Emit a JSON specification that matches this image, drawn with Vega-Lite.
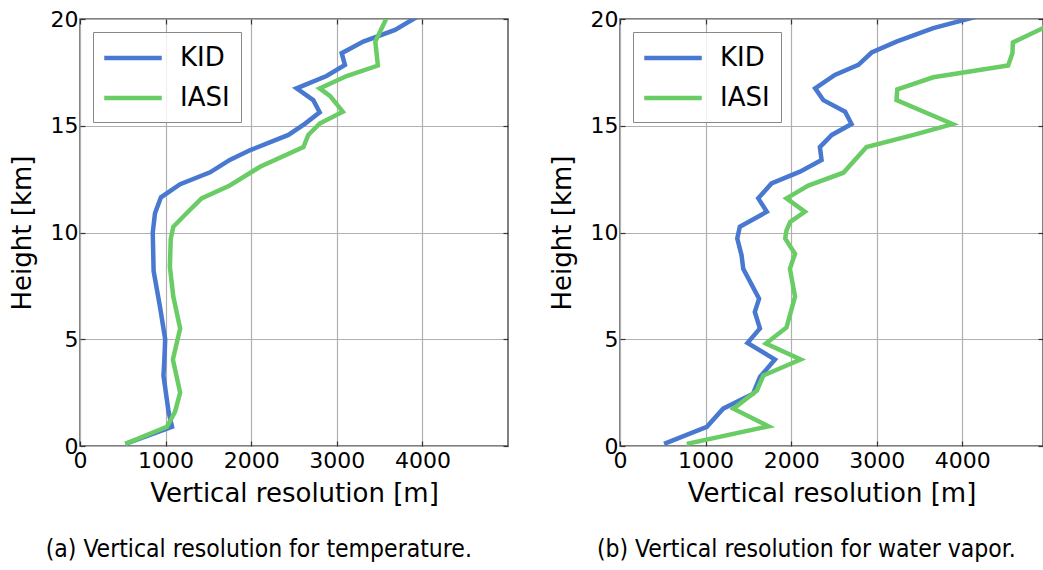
{
  "$schema": "https://vega.github.io/schema/vega-lite/v6.json",
  "background": "white",
  "padding": {"left": 8, "top": 7, "right": 0, "bottom": 0},
  "spacing": 112,
  "bounds": "flush",
  "config": {
    "font": "DejaVu Sans",
    "view": {"stroke": "#555555", "strokeWidth": 1.5},
    "axis": {
      "labelFont": "DejaVu Sans",
      "labelFontSize": 22,
      "labelColor": "#000000",
      "labelFlush": false,
      "titleFont": "DejaVu Sans",
      "titleFontSize": 26,
      "titleFontWeight": "normal",
      "titleColor": "#000000",
      "gridColor": "#b0b0b0",
      "gridWidth": 1.2,
      "domain": false,
      "tickColor": "#333333",
      "tickWidth": 1.2,
      "tickSize": -5,
      "labelPadding": 7
    },
    "legend": {
      "labelFont": "DejaVu Sans",
      "labelFontSize": 26,
      "labelColor": "#000000",
      "symbolType": "M-2.3,0H2.3",
      "symbolStrokeWidth": 4.5,
      "symbolSize": 625,
      "symbolOffset": 14,
      "labelOffset": 32,
      "strokeColor": "#888888",
      "fillColor": "rgba(255,255,255,0.8)",
      "padding": 11,
      "rowPadding": 12,
      "cornerRadius": 0
    }
  },
  "hconcat": [
    {
      "width": 428,
      "height": 427,
      "title": {
        "text": "(a) Vertical resolution for temperature.",
        "orient": "bottom",
        "anchor": "middle",
        "frame": "bounds",
        "font": "Liberation Sans Narrow, DejaVu Sans Condensed, sans-serif",
        "fontSize": 24.5,
        "fontWeight": "normal",
        "color": "#000000",
        "offset": 32
      },
      "data": {
        "values": [
          {"series": "KID", "height": 0.1, "res": 530},
          {"series": "KID", "height": 0.9, "res": 1075},
          {"series": "KID", "height": 1.6, "res": 1035},
          {"series": "KID", "height": 3.3, "res": 975},
          {"series": "KID", "height": 4.0, "res": 985},
          {"series": "KID", "height": 5.0, "res": 995},
          {"series": "KID", "height": 6.5, "res": 935},
          {"series": "KID", "height": 8.2, "res": 860},
          {"series": "KID", "height": 10.0, "res": 850},
          {"series": "KID", "height": 10.9, "res": 876},
          {"series": "KID", "height": 11.65, "res": 946},
          {"series": "KID", "height": 12.26, "res": 1170},
          {"series": "KID", "height": 12.82, "res": 1520},
          {"series": "KID", "height": 13.4, "res": 1750},
          {"series": "KID", "height": 13.86, "res": 1990},
          {"series": "KID", "height": 14.57, "res": 2435},
          {"series": "KID", "height": 15.1, "res": 2630},
          {"series": "KID", "height": 15.63, "res": 2800},
          {"series": "KID", "height": 16.2, "res": 2725},
          {"series": "KID", "height": 16.75, "res": 2530},
          {"series": "KID", "height": 17.33, "res": 2880},
          {"series": "KID", "height": 17.85, "res": 3095},
          {"series": "KID", "height": 18.4, "res": 3057},
          {"series": "KID", "height": 18.94, "res": 3310},
          {"series": "KID", "height": 19.49, "res": 3680},
          {"series": "KID", "height": 20.2, "res": 3980},
          {"series": "IASI", "height": 0.1, "res": 530},
          {"series": "IASI", "height": 0.9, "res": 1015},
          {"series": "IASI", "height": 1.6, "res": 1110},
          {"series": "IASI", "height": 2.5, "res": 1170},
          {"series": "IASI", "height": 4.05, "res": 1085},
          {"series": "IASI", "height": 5.5, "res": 1170},
          {"series": "IASI", "height": 7.0, "res": 1090},
          {"series": "IASI", "height": 8.4, "res": 1050},
          {"series": "IASI", "height": 9.7, "res": 1060},
          {"series": "IASI", "height": 10.27, "res": 1090},
          {"series": "IASI", "height": 10.9, "res": 1245},
          {"series": "IASI", "height": 11.6, "res": 1420},
          {"series": "IASI", "height": 12.2, "res": 1750},
          {"series": "IASI", "height": 13.08, "res": 2103},
          {"series": "IASI", "height": 14.0, "res": 2610},
          {"series": "IASI", "height": 14.57, "res": 2667},
          {"series": "IASI", "height": 15.1, "res": 2800},
          {"series": "IASI", "height": 15.66, "res": 3070},
          {"series": "IASI", "height": 16.4, "res": 2920},
          {"series": "IASI", "height": 16.75, "res": 2800},
          {"series": "IASI", "height": 17.33, "res": 3115},
          {"series": "IASI", "height": 17.82, "res": 3480},
          {"series": "IASI", "height": 18.94, "res": 3450},
          {"series": "IASI", "height": 20.2, "res": 3600}
        ]
      },
      "layer": [
        {
          "mark": {"type": "line", "strokeWidth": 4.5, "clip": true},
          "encoding": {
            "x": {
              "field": "res", "type": "quantitative",
              "scale": {"domain": [0, 5000], "nice": false},
              "axis": {"values": [0, 1000, 2000, 3000, 4000], "format": "d", "title": "Vertical resolution [m]", "grid": true, "labelPadding": 9, "titlePadding": 9}
            },
            "y": {
              "field": "height", "type": "quantitative",
              "scale": {"domain": [0, 20], "nice": false},
              "axis": {"values": [0, 5, 10, 15, 20], "title": "Height [km]", "grid": true, "titlePadding": 15}
            },
            "order": {"field": "height", "type": "quantitative"},
            "color": {
              "field": "series", "type": "nominal",
              "scale": {"domain": ["KID", "IASI"], "range": ["#4878CF", "#6ACC65"]},
              "legend": {"title": null, "orient": "none", "legendX": 13, "legendY": 13}
            }
          }
        },
        {
          "mark": {"type": "point", "opacity": 0},
          "encoding": {
            "x": {"field": "res", "type": "quantitative", "axis": {"orient": "top", "values": [0, 1000, 2000, 3000, 4000], "labels": false, "title": null, "grid": false}},
            "y": {"field": "height", "type": "quantitative", "axis": {"orient": "right", "values": [0, 5, 10, 15, 20], "labels": false, "title": null, "grid": false}}
          }
        }
      ],
      "resolve": {"axis": {"x": "independent", "y": "independent"}}
    },
    {
      "width": 423,
      "height": 427,
      "title": {
        "text": "(b) Vertical resolution for water vapor.",
        "orient": "bottom",
        "anchor": "middle",
        "frame": "bounds",
        "font": "Liberation Sans Narrow, DejaVu Sans Condensed, sans-serif",
        "fontSize": 24.5,
        "fontWeight": "normal",
        "color": "#000000",
        "offset": 32
      },
      "data": {
        "values": [
          {"series": "KID", "height": 0.1, "res": 515},
          {"series": "KID", "height": 0.9, "res": 1015},
          {"series": "KID", "height": 1.75, "res": 1205},
          {"series": "KID", "height": 2.45, "res": 1555},
          {"series": "KID", "height": 3.23, "res": 1635},
          {"series": "KID", "height": 4.05, "res": 1810},
          {"series": "KID", "height": 4.83, "res": 1490},
          {"series": "KID", "height": 5.5, "res": 1635},
          {"series": "KID", "height": 6.28, "res": 1575},
          {"series": "KID", "height": 6.9, "res": 1625},
          {"series": "KID", "height": 8.3, "res": 1440},
          {"series": "KID", "height": 8.94, "res": 1420},
          {"series": "KID", "height": 9.72, "res": 1370},
          {"series": "KID", "height": 10.27, "res": 1400},
          {"series": "KID", "height": 10.97, "res": 1715},
          {"series": "KID", "height": 11.6, "res": 1615},
          {"series": "KID", "height": 12.3, "res": 1770},
          {"series": "KID", "height": 12.85, "res": 2103},
          {"series": "KID", "height": 13.4, "res": 2355},
          {"series": "KID", "height": 14.0, "res": 2335},
          {"series": "KID", "height": 14.57, "res": 2475},
          {"series": "KID", "height": 15.08, "res": 2705},
          {"series": "KID", "height": 15.66, "res": 2630},
          {"series": "KID", "height": 16.2, "res": 2375},
          {"series": "KID", "height": 16.75, "res": 2280},
          {"series": "KID", "height": 17.38, "res": 2510},
          {"series": "KID", "height": 17.85, "res": 2785},
          {"series": "KID", "height": 18.43, "res": 2940},
          {"series": "KID", "height": 18.94, "res": 3230},
          {"series": "KID", "height": 19.57, "res": 3660},
          {"series": "KID", "height": 20.2, "res": 4250},
          {"series": "IASI", "height": 0.1, "res": 780},
          {"series": "IASI", "height": 0.92, "res": 1735},
          {"series": "IASI", "height": 1.75, "res": 1325},
          {"series": "IASI", "height": 2.6, "res": 1600},
          {"series": "IASI", "height": 3.3, "res": 1675},
          {"series": "IASI", "height": 4.05, "res": 2110},
          {"series": "IASI", "height": 4.8, "res": 1705},
          {"series": "IASI", "height": 5.55, "res": 1945},
          {"series": "IASI", "height": 7.0, "res": 2045},
          {"series": "IASI", "height": 8.3, "res": 1985},
          {"series": "IASI", "height": 9.0, "res": 2045},
          {"series": "IASI", "height": 9.72, "res": 1930},
          {"series": "IASI", "height": 10.1, "res": 1945},
          {"series": "IASI", "height": 10.5, "res": 1990},
          {"series": "IASI", "height": 10.97, "res": 2160},
          {"series": "IASI", "height": 11.6, "res": 1945},
          {"series": "IASI", "height": 12.2, "res": 2200},
          {"series": "IASI", "height": 12.8, "res": 2610},
          {"series": "IASI", "height": 14.0, "res": 2880},
          {"series": "IASI", "height": 14.57, "res": 3430},
          {"series": "IASI", "height": 15.08, "res": 3885},
          {"series": "IASI", "height": 16.2, "res": 3230},
          {"series": "IASI", "height": 16.7, "res": 3240},
          {"series": "IASI", "height": 17.27, "res": 3660},
          {"series": "IASI", "height": 17.82, "res": 4535},
          {"series": "IASI", "height": 18.4, "res": 4585},
          {"series": "IASI", "height": 18.9, "res": 4590},
          {"series": "IASI", "height": 19.57, "res": 4940},
          {"series": "IASI", "height": 20.2, "res": 5150}
        ]
      },
      "layer": [
        {
          "mark": {"type": "line", "strokeWidth": 4.5, "clip": true},
          "encoding": {
            "x": {
              "field": "res", "type": "quantitative",
              "scale": {"domain": [0, 4942], "nice": false},
              "axis": {"values": [0, 1000, 2000, 3000, 4000], "format": "d", "title": "Vertical resolution [m]", "grid": true, "labelPadding": 9, "titlePadding": 9}
            },
            "y": {
              "field": "height", "type": "quantitative",
              "scale": {"domain": [0, 20], "nice": false},
              "axis": {"values": [0, 5, 10, 15, 20], "title": "Height [km]", "grid": true, "titlePadding": 15}
            },
            "order": {"field": "height", "type": "quantitative"},
            "color": {
              "field": "series", "type": "nominal",
              "scale": {"domain": ["KID", "IASI"], "range": ["#4878CF", "#6ACC65"]},
              "legend": {"title": null, "orient": "none", "legendX": 13, "legendY": 13}
            }
          }
        },
        {
          "mark": {"type": "point", "opacity": 0},
          "encoding": {
            "x": {"field": "res", "type": "quantitative", "axis": {"orient": "top", "values": [0, 1000, 2000, 3000, 4000], "labels": false, "title": null, "grid": false}},
            "y": {"field": "height", "type": "quantitative", "axis": {"orient": "right", "values": [0, 5, 10, 15, 20], "labels": false, "title": null, "grid": false}}
          }
        }
      ],
      "resolve": {"axis": {"x": "independent", "y": "independent"}}
    }
  ],
  "resolve": {"scale": {"color": "independent"}}
}
